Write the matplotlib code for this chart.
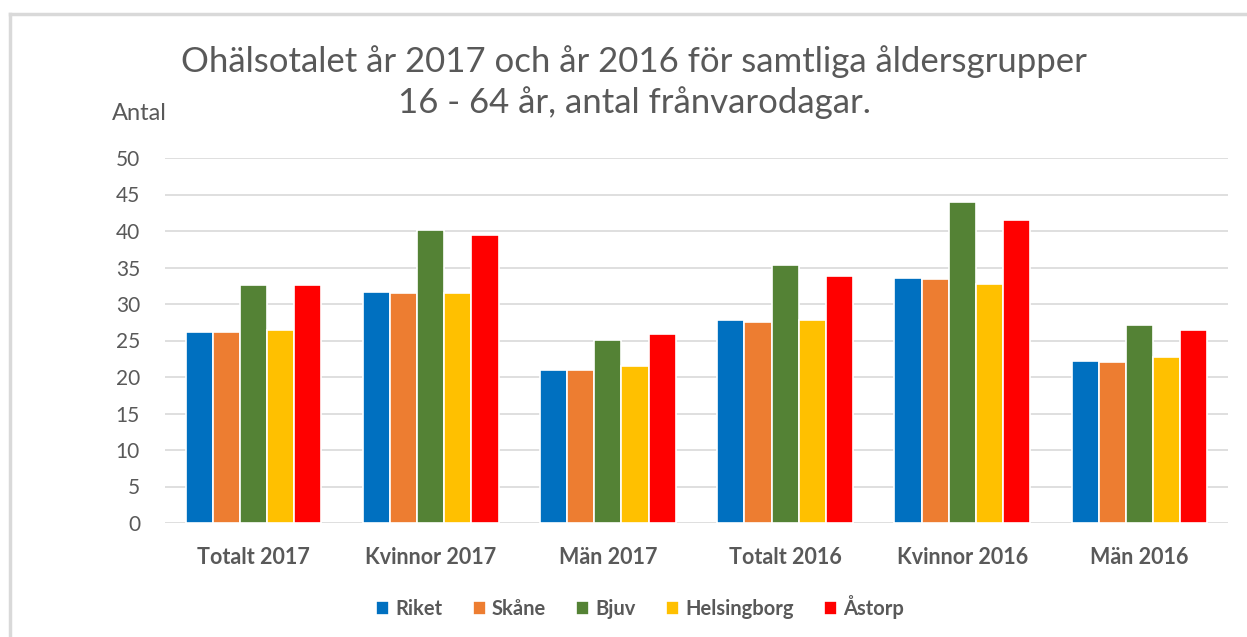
import matplotlib.pyplot as plt
import numpy as np

plt.rcParams['font.family'] = ['Lato', 'DejaVu Sans']

categories = ['Totalt 2017', 'Kvinnor 2017', 'Män 2017', 'Totalt 2016', 'Kvinnor 2016', 'Män 2016']
riket = [26.2, 31.7, 21.0, 27.8, 33.6, 22.2]
skane = [26.2, 31.5, 21.0, 27.6, 33.4, 22.0]
bjuv = [32.6, 40.2, 25.1, 35.3, 44.0, 27.1]
helsingborg = [26.4, 31.5, 21.5, 27.8, 32.7, 22.7]
astorp = [32.6, 39.4, 25.9, 33.8, 41.5, 26.4]

series = [('Riket', riket, '#0070C0'),
          ('Skåne', skane, '#ED7D31'),
          ('Bjuv', bjuv, '#548235'),
          ('Helsingborg', helsingborg, '#FFC000'),
          ('Åstorp', astorp, '#FF0000')]

txt = '#595959'
fig = plt.figure(figsize=(12.47, 6.37), dpi=100)
ax = fig.add_axes([165/1247, 1 - 523/637, 1063/1247, 365/637])

x = np.arange(len(categories))
pitch = 0.153
for i, (name, vals, col) in enumerate(series):
    ax.bar(x + (i - 2) * pitch, vals, width=pitch, color=col, edgecolor='white',
           linewidth=1.2, label=name, zorder=3)

ax.set_xlim(-0.5, 5.5)
ax.set_ylim(0, 50)
ax.set_yticks(range(0, 51, 5))
ax.yaxis.grid(True, color='#D9D9D9', linewidth=1.2, zorder=0)
for s in ax.spines.values():
    s.set_visible(False)
ax.tick_params(axis='y', length=0, pad=18, labelsize=15, labelcolor=txt)
ax.tick_params(axis='x', length=0, pad=17, labelsize=15.5, labelcolor=txt)
ax.set_xticks(x)
ax.set_xticklabels(categories, fontweight='bold')

fig.text(139/1247, 1 - 113/637, 'Antal', fontsize=17, color=txt, ha='center', va='center')
fig.text(634/1247, 1 - 62/637, 'Ohälsotalet år 2017 och år 2016 för samtliga åldersgrupper',
         fontsize=25, color=txt, ha='center', va='center')
fig.text(634/1247, 1 - 103/637, '16 - 64 år, antal frånvarodagar.',
         fontsize=25, color=txt, ha='center', va='center')

leg = fig.legend(loc='center', bbox_to_anchor=(640/1247, 1 - 607/637), ncol=5, frameon=False,
                 prop={'size': 14.5, 'weight': 'bold'}, handlelength=0.65, handleheight=0.65,
                 handletextpad=0.3, columnspacing=1.5)
for t in leg.get_texts():
    t.set_color(txt)

# chart border (top and left)
fig.add_artist(plt.Line2D([10/1247, 1], [1 - 14/637, 1 - 14/637], color='#D9D9D9', linewidth=2.5))
fig.add_artist(plt.Line2D([10/1247, 10/1247], [0, 1 - 14/637], color='#D9D9D9', linewidth=2.5))

fig.savefig('out.png', dpi=100)
